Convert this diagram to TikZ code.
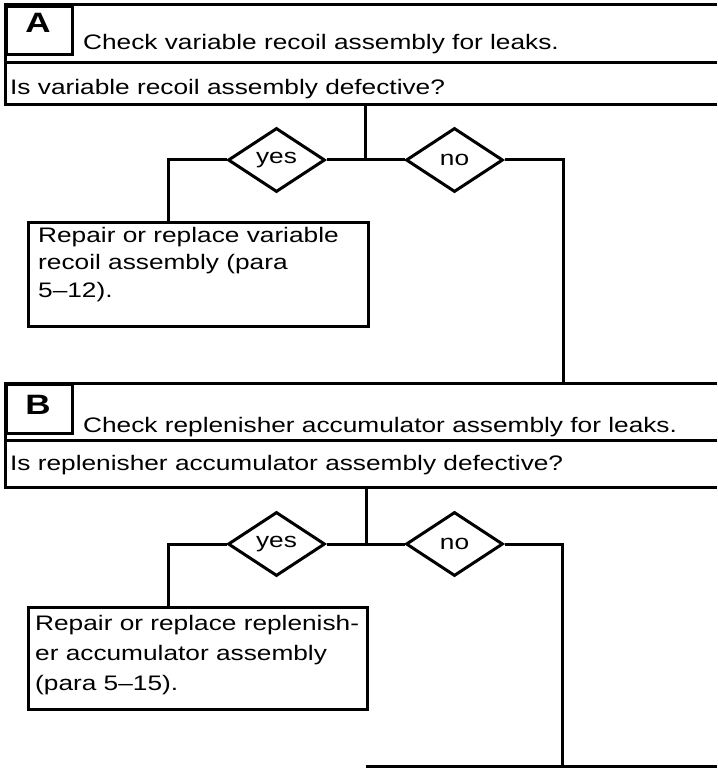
\documentclass[tikz,border=0pt]{standalone}
\usepackage{fontspec}
\setmainfont{Liberation Sans}[FakeStretch=1.25]
\usetikzlibrary{shapes.geometric}
\begin{document}
\begin{tikzpicture}[x=1pt,y=-1pt,
  ln/.style={line width=3pt},
  txt/.style={inner sep=0pt, anchor=base west, font=\fontsize{21}{27}\selectfont},
  lett/.style={inner sep=0pt, anchor=base, font=\fontsize{28}{30}\selectfont\bfseries},
  dia/.style={diamond, draw, line width=3pt, minimum width=97pt, minimum height=64pt, inner sep=0pt, font=\fontsize{21}{25}\selectfont},
  rbox/.style={draw, line width=3pt, inner sep=0pt, anchor=north west},
  area/.style={inner sep=0pt, anchor=north west}]
\useasboundingbox (0,0) rectangle (717,770);
\fill[white] (0,0) rectangle (717,770);

% ---------- Block A ----------
\node[area, minimum width=712pt, minimum height=58pt] (hA) at (5,5) {};
\node[area, minimum width=712pt, minimum height=41pt] (qA) at (5,63) {};
\draw[ln] (hA.north east) -- (hA.north west) -- (qA.south west) -- (qA.south east);
\draw[ln] (qA.north west) -- (qA.north east);
\node[rbox, minimum width=66pt, minimum height=48pt] (lA) at (5,5) {};
\node[lett] (LA) at (38,33) {A};
\node[txt] (tA) at (83,50) {Check variable recoil assembly for leaks.};
\node[txt] (qtA) at (10,95) {Is variable recoil assembly defective?};

\coordinate (jA) at (365,160);
\node[dia] (yA) at (276.5,160) {yes};
\node[dia] (nA) at (454.5,160) {no};
\node[rbox, minimum width=340pt, minimum height=104pt] (rA) at (27,221) {};
\node[txt] (rA1) at (38,242) {Repair or replace variable};
\node[txt] (rA2) at (38,269) {recoil assembly (para};
\node[txt] (rA3) at (38,297) {5--12).};

% ---------- Block B ----------
\node[area, minimum width=712pt, minimum height=57pt] (hB) at (5,383) {};
\node[area, minimum width=712pt, minimum height=47pt] (qB) at (5,440) {};
\draw[ln] (hB.north east) -- (hB.north west) -- (qB.south west) -- (qB.south east);
\draw[ln] (qB.north west) -- (qB.north east);
\node[rbox, minimum width=66pt, minimum height=49pt] (lB) at (5,383) {};
\node[lett] (LB) at (38,414) {B};
\node[txt] (tB) at (83,432) {Check replenisher accumulator assembly for leaks.};
\node[txt] (qtB) at (10,470) {Is replenisher accumulator assembly defective?};

\coordinate (jB) at (366,544);
\node[dia] (yB) at (276.5,544) {yes};
\node[dia] (nB) at (454.5,544) {no};
\node[rbox, minimum width=339pt, minimum height=102pt] (rB) at (27,606) {};
\node[txt] (rB1) at (35,630) {Repair or replace replenish-};
\node[txt] (rB2) at (35,660) {er accumulator assembly};
\node[txt] (rB3) at (35,690) {(para 5--15).};

\coordinate (bL) at (366,766);
\coordinate (bR) at (717,766);

% ---------- connectors ----------
\draw[ln] (jA |- qA.south) -- (jA);
\draw[ln] (yA.east) -- (nA.west);
\draw[ln] (yA.west) -| ([xshift=141pt]rA.north west);
\draw[ln] (nA.east) -| ([xshift=558pt]hB.north west);

\draw[ln] (jB |- qB.south) -- (jB);
\draw[ln] (yB.east) -- (nB.west);
\draw[ln] (yB.west) -| ([xshift=141pt]rB.north west);
\draw[ln] (nB.east) -| ([xshift=196pt]bL);
\draw[ln] (bL) -- (bR);
\end{tikzpicture}
\end{document}
